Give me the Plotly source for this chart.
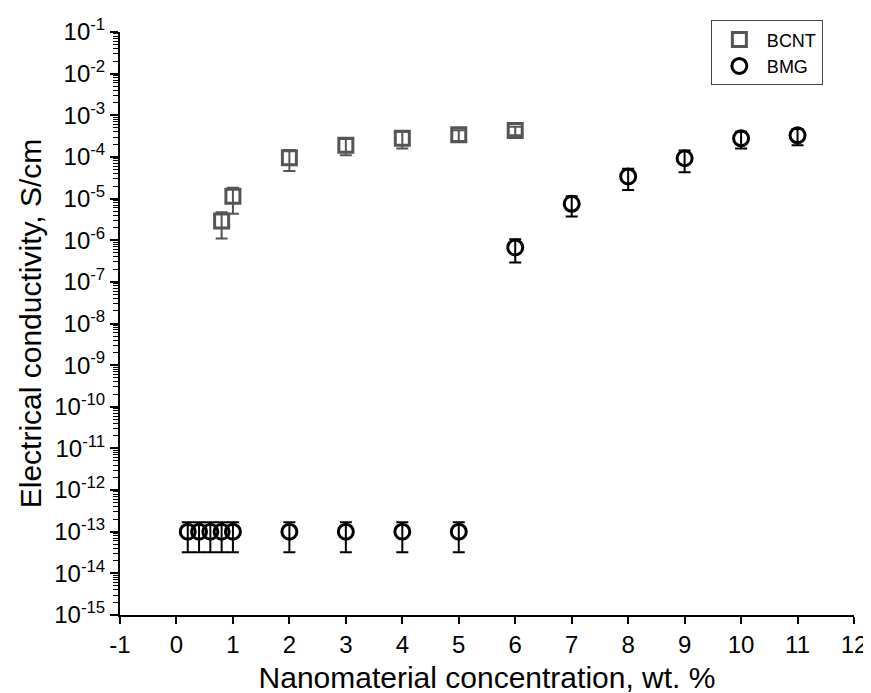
import plotly.graph_objects as go

# BCNT series
bcnt_x = [0.8, 1.0, 2, 3, 4, 5, 6]
bcnt_y = [2.9e-6, 1.13e-5, 9.6e-5, 1.9e-4, 2.8e-4, 3.4e-4, 4.3e-4]
bcnt_err = [1.8e-6, 7.0e-6, 5.0e-5, 8.0e-5, 1.2e-4, 1.0e-4, 1.0e-4]

# BMG series
bmg_x = [0.2, 0.4, 0.6, 0.8, 1.0, 2, 3, 4, 5, 6, 7, 8, 9, 10, 11]
bmg_y = [1e-13, 1e-13, 1e-13, 1e-13, 1e-13, 1e-13, 1e-13, 1e-13, 1e-13,
         6.7e-7, 7.5e-6, 3.4e-5, 9.3e-5, 2.8e-4, 3.3e-4]
bmg_err = [6.8e-14] * 9 + [3.8e-7, 3.8e-6, 1.8e-5, 5.0e-5, 1.2e-4, 1.4e-4]

y_exponents = list(range(-15, 0))
y_tickvals = [10.0 ** e for e in y_exponents]
y_ticktext = [f"10<sup>{e}</sup>" for e in y_exponents]
y_minor = [k * 10.0 ** e for e in y_exponents[:-1] for k in range(2, 10)]
x_tickvals = list(range(-1, 13))
x_ticktext = [str(v) for v in x_tickvals]

FONT = "Arial, Liberation Sans, sans-serif"

fig = go.Figure()

fig.add_trace(go.Scatter(
    x=bcnt_x, y=bcnt_y, mode="markers", name="BCNT",
    marker=dict(symbol="square-open", size=14, color="#555555",
                line=dict(width=3, color="#555555")),
    error_y=dict(type="data", array=bcnt_err, color="#555555",
                 thickness=2, width=6),
))

fig.add_trace(go.Scatter(
    x=bmg_x, y=bmg_y, mode="markers", name="BMG",
    marker=dict(symbol="circle-open", size=15, color="black",
                line=dict(width=3, color="black")),
    error_y=dict(type="data", array=bmg_err, color="black",
                 thickness=2, width=6),
))

fig.update_layout(
    width=871, height=693,
    margin=dict(l=112, r=25, t=19, b=86),
    paper_bgcolor="white", plot_bgcolor="white",
    font=dict(family=FONT, size=20, color="black"),
    showlegend=True,
    legend=dict(
        x=0.805, y=1.02, xanchor="left", yanchor="top",
        bordercolor="#444444", borderwidth=1,
        font=dict(size=18),
        itemwidth=45,
        tracegroupgap=0,
    ),
    xaxis=dict(
        range=[-1, 12], tickvals=x_tickvals, ticktext=x_ticktext,
        tickfont=dict(family=FONT, size=24, color="black"),
        showline=True, linecolor="black", linewidth=2,
        ticks="outside", ticklen=7, tickwidth=2, tickcolor="black",
        showgrid=False, zeroline=False, automargin=False,
        title=dict(text="Nanomaterial concentration, wt. %",
                   font=dict(size=30), standoff=10),
    ),
    yaxis=dict(
        type="log", range=[-15, -1],
        tickvals=y_tickvals, ticktext=y_ticktext,
        tickfont=dict(family=FONT, size=24, color="black"),
        showline=True, linecolor="black", linewidth=2,
        ticks="outside", ticklen=8, tickwidth=2, tickcolor="black",
        minor=dict(tickmode="array", tickvals=y_minor, ticks="outside",
                   ticklen=5, tickwidth=1, tickcolor="black",
                   showgrid=False),
        showgrid=False, zeroline=False, automargin=False,
        title=dict(text="Electrical conductivity, S/cm",
                   font=dict(size=30), standoff=4),
    ),
)

fig.write_html("out.html")
